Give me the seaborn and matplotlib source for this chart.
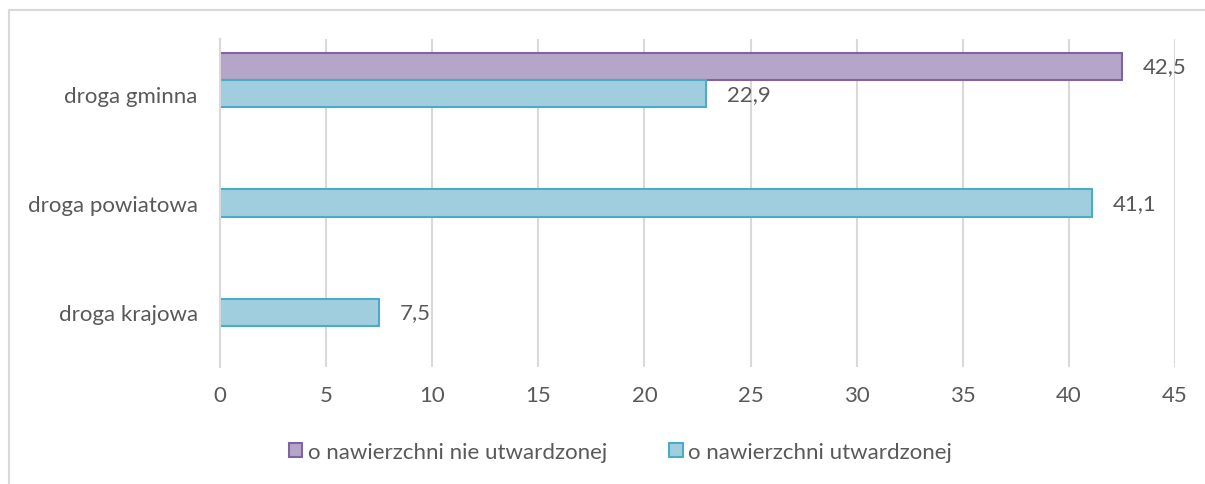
import matplotlib
matplotlib.use("Agg")
import matplotlib.pyplot as plt
from matplotlib.lines import Line2D
from matplotlib.patches import Patch
import seaborn as sns
import pandas as pd

# data
categories = ["droga gminna", "droga powiatowa", "droga krajowa"]
series_names = ["o nawierzchni nie utwardzonej", "o nawierzchni utwardzonej", "_empty"]
nie_utwardzonej = [42.5, None, None]
utwardzonej = [22.9, 41.1, 7.5]
x_ticks = [0, 5, 10, 15, 20, 25, 30, 35, 40, 45]

fills = {"o nawierzchni nie utwardzonej": "#b4a5c9",
         "o nawierzchni utwardzonej": "#a0cedf",
         "_empty": "#ffffff"}
edges = {"o nawierzchni nie utwardzonej": "#8064a2",
         "o nawierzchni utwardzonej": "#4bacc6"}
text_col = "#595959"
grid_col = "#d9d9d9"
fs = 16

rows = []
for cat, a, b in zip(categories, nie_utwardzonej, utwardzonej):
    if a is not None:
        rows.append({"kategoria": cat, "seria": series_names[0], "wartosc": a})
    if b is not None:
        rows.append({"kategoria": cat, "seria": series_names[1], "wartosc": b})
df = pd.DataFrame(rows)

sns.set_style("white")
plt.rcParams["font.family"] = ["Lato", "DejaVu Sans"]

fig = plt.figure(figsize=(12.05, 4.85), dpi=100)
ax = fig.add_axes([220 / 1205, 1 - 368 / 485, 955 / 1205, 328 / 485])

sns.barplot(data=df, x="wartosc", y="kategoria", hue="seria",
            order=categories, hue_order=series_names, palette=fills,
            saturation=1, orient="h", width=0.75, dodge=True, errorbar=None,
            legend=False, ax=ax, zorder=3)

# edges and labels
for cont, name in zip(ax.containers, series_names[:2]):
    for bar in cont:
        bar.set_edgecolor(edges[name])
        bar.set_linewidth(1.5)
    labels = [f"{v:.1f}".replace(".", ",") for v in cont.datavalues]
    ax.bar_label(cont, labels=labels, padding=15, fontsize=fs, color=text_col)

ax.set_xlim(0, 45)
ax.set_ylim(2.5, -0.5)
ax.set_xticks(x_ticks)
ax.set_xticklabels([str(t) for t in x_ticks], fontsize=fs, color=text_col)
ax.tick_params(axis="x", length=0, pad=13)
ax.tick_params(axis="y", which="major", length=0, pad=16, labelsize=fs,
               labelcolor=text_col)
ax.set_yticks([-0.5, 0.5, 1.5, 2.5], minor=True)
ax.tick_params(axis="y", which="minor", length=6, width=1.5, color=grid_col)
ax.set_xlabel("")
ax.set_ylabel("")
ax.grid(axis="x", color=grid_col, linewidth=1.5, zorder=0)
ax.set_axisbelow(True)
for s in ["top", "right", "bottom"]:
    ax.spines[s].set_visible(False)
ax.spines["left"].set_color(grid_col)
ax.spines["left"].set_linewidth(1.5)
ax.spines["left"].set_zorder(4)

# legend
handles = [Patch(facecolor=fills[n], edgecolor=edges[n], linewidth=1.5, label=n)
           for n in series_names[:2]]
fig.legend(handles=handles, loc="center", bbox_to_anchor=(0.515, 1 - 453 / 485),
           ncol=2, frameon=False, fontsize=fs, labelcolor=text_col,
           handlelength=0.6, handleheight=0.6, handletextpad=0.25,
           columnspacing=2.8)

# outer frame (top and left only)
fig.add_artist(Line2D([9 / 1205, 1], [1 - 11 / 485, 1 - 11 / 485],
                      color=grid_col, linewidth=1.5, transform=fig.transFigure))
fig.add_artist(Line2D([9 / 1205, 9 / 1205], [0, 1 - 11 / 485],
                      color=grid_col, linewidth=1.5, transform=fig.transFigure))

fig.savefig("out.png", dpi=100, facecolor="white")
